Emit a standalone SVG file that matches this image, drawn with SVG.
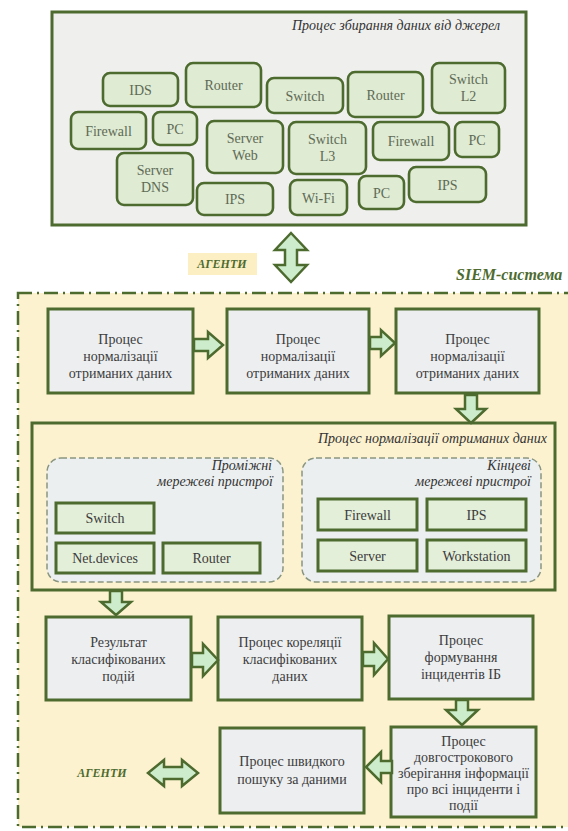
<svg xmlns="http://www.w3.org/2000/svg" width="568" height="831" viewBox="0 0 568 831" font-family="'Liberation Serif', 'DejaVu Serif', serif">
<style>
text{font-family:"Liberation Serif","DejaVu Serif",serif;}
.dev rect{fill:#dfebd3;stroke:#4d6b2f;stroke-width:2.6;}
.dev text{font-size:14px;fill:#5e6a55;text-anchor:middle;}
.proc rect{fill:#eceef0;stroke:#4d6b2f;stroke-width:3;}
.proc text{font-size:14px;fill:#3c3c3c;text-anchor:middle;}
.inner rect{fill:#e4efd9;stroke:#4d6b2f;stroke-width:3;}
.inner text{font-size:14px;fill:#3c3c3c;text-anchor:middle;}
.grp{fill:#eceff0;stroke:#8a9680;stroke-width:1.5;stroke-dasharray:6 3;}
.ttl{font-size:14px;font-style:italic;fill:#333;text-anchor:end;}
.ag{font-size:12px;font-style:italic;font-weight:bold;fill:#4d6b2f;text-anchor:middle;}
.arr{fill:#cdeccb;stroke:#4d6b2f;stroke-width:2.5;stroke-linejoin:miter;}
</style>

<!-- top collecting box -->
<g id="collect">
<rect x="52" y="12" width="474" height="213" fill="#eff0ee" stroke="#4d6b2f" stroke-width="3"/>
<text class="ttl" x="500" y="30">Процес збирання даних від джерел</text>
</g>

<g id="d-ids" class="dev"><rect x="103" y="73" width="75" height="33" rx="7"/><text x="140.5" y="94.5">IDS</text></g>
<g id="d-router1" class="dev"><rect x="186" y="63" width="75" height="44" rx="7"/><text x="223.5" y="90">Router</text></g>
<g id="d-switch1" class="dev"><rect x="267" y="78" width="76" height="35" rx="7"/><text x="305" y="100.5">Switch</text></g>
<g id="d-router2" class="dev"><rect x="348" y="72" width="75" height="45" rx="7"/><text x="385.5" y="99.5">Router</text></g>
<g id="d-switchl2" class="dev"><rect x="432" y="63" width="73" height="50" rx="7"/><text x="468.5" y="84">Switch</text><text x="468.5" y="101">L2</text></g>
<g id="d-firewall1" class="dev"><rect x="71" y="112" width="75" height="37" rx="7"/><text x="108.5" y="135.5">Firewall</text></g>
<g id="d-pc1" class="dev"><rect x="153" y="112" width="44" height="33" rx="7"/><text x="175" y="133.5">PC</text></g>
<g id="d-serverweb" class="dev"><rect x="207" y="121" width="76" height="52" rx="7"/><text x="245" y="143">Server</text><text x="245" y="160">Web</text></g>
<g id="d-switchl3" class="dev"><rect x="289" y="122" width="77" height="52" rx="7"/><text x="327.5" y="144">Switch</text><text x="327.5" y="161">L3</text></g>
<g id="d-firewall2" class="dev"><rect x="373" y="122" width="76" height="38" rx="7"/><text x="411" y="146">Firewall</text></g>
<g id="d-pc2" class="dev"><rect x="455" y="122" width="44" height="35" rx="7"/><text x="477" y="144.5">PC</text></g>
<g id="d-serverdns" class="dev"><rect x="117" y="153" width="76" height="52" rx="7"/><text x="155" y="175">Server</text><text x="155" y="192">DNS</text></g>
<g id="d-ips1" class="dev"><rect x="197" y="183" width="76" height="32" rx="7"/><text x="235" y="204">IPS</text></g>
<g id="d-wifi" class="dev"><rect x="290" y="180" width="57" height="35" rx="7"/><text x="318.5" y="202.5">Wi-Fi</text></g>
<g id="d-pc3" class="dev"><rect x="359" y="176" width="45" height="33" rx="7"/><text x="381.5" y="197.5">PC</text></g>
<g id="d-ips2" class="dev"><rect x="409" y="167" width="77" height="35" rx="7"/><text x="447.5" y="189.5">IPS</text></g>

<!-- agents label top -->
<g id="agents-top">
<rect x="188" y="253" width="69" height="22" fill="#fcefc4"/>
<text class="ag" x="222" y="268">АГЕНТИ</text>
</g>

<!-- SIEM region -->
<g id="siem">
<rect x="18" y="293" width="600" height="534" fill="#fdf2cf" stroke="#4d6b2f" stroke-width="2.5" stroke-dasharray="14 5 2 5"/>
<text x="456" y="280" font-size="16" font-style="italic" font-weight="bold" fill="#4d6b2f">SIEM-система</text>
</g>

<!-- row 1 -->
<g id="p-norm1" class="proc"><rect x="48" y="309" width="145" height="84"/><text x="120.5" y="344">Процес</text><text x="120.5" y="361">нормалізації</text><text x="120.5" y="378">отриманих даних</text></g>
<g id="p-norm2" class="proc"><rect x="227" y="309" width="142" height="84"/><text x="298" y="344">Процес</text><text x="298" y="361">нормалізації</text><text x="298" y="378">отриманих даних</text></g>
<g id="p-norm3" class="proc"><rect x="396" y="309" width="143" height="84"/><text x="467.5" y="344">Процес</text><text x="467.5" y="361">нормалізації</text><text x="467.5" y="378">отриманих даних</text></g>

<!-- big normalization box -->
<g id="p-normbig">
<rect x="32" y="423" width="523" height="167" fill="none" stroke="#4d6b2f" stroke-width="3"/>
<text class="ttl" x="547" y="443">Процес нормалізації отриманих даних</text>
</g>
<g id="g-intermediate">
<rect class="grp" x="47" y="458" width="236" height="124" rx="14"/>
<text class="ttl" x="272" y="470" font-size="13">Проміжні</text>
<text class="ttl" x="273" y="486" font-size="13">мережеві пристрої</text>
</g>
<g id="g-end">
<rect class="grp" x="302" y="458" width="239" height="124" rx="14"/>
<text class="ttl" x="531" y="470" font-size="13">Кінцеві</text>
<text class="ttl" x="531" y="486" font-size="13">мережеві пристрої</text>
</g>
<g id="i-switch" class="inner"><rect x="56" y="503" width="98" height="30"/><text x="105" y="523">Switch</text></g>
<g id="i-netdev" class="inner"><rect x="56" y="543" width="98" height="30"/><text x="105" y="563">Net.devices</text></g>
<g id="i-router" class="inner"><rect x="163" y="543" width="97" height="30"/><text x="211.5" y="563">Router</text></g>
<g id="i-firewall" class="inner"><rect x="318" y="499" width="99" height="31"/><text x="367.5" y="519.5">Firewall</text></g>
<g id="i-ips" class="inner"><rect x="427" y="499" width="99" height="31"/><text x="476.5" y="519.5">IPS</text></g>
<g id="i-server" class="inner"><rect x="318" y="540" width="99" height="31"/><text x="367.5" y="560.5">Server</text></g>
<g id="i-workstation" class="inner"><rect x="427" y="540" width="99" height="31"/><text x="476.5" y="560.5">Workstation</text></g>

<!-- row 2 -->
<g id="p-result" class="proc"><rect x="46" y="617" width="145" height="83"/><text x="118.5" y="647">Результат</text><text x="118.5" y="664">класифікованих</text><text x="118.5" y="681">подій</text></g>
<g id="p-correl" class="proc"><rect x="218" y="617" width="144" height="83"/><text x="290" y="647">Процес кореляції</text><text x="290" y="664">класифікованих</text><text x="290" y="681">даних</text></g>
<g id="p-incid" class="proc"><rect x="389" y="616" width="144" height="83"/><text x="461" y="645">Процес</text><text x="461" y="662">формування</text><text x="461" y="679">інцидентів ІБ</text></g>

<!-- row 3 -->
<g id="p-search" class="proc"><rect x="220" y="728" width="144" height="85"/><text x="292" y="766">Процес швидкого</text><text x="292" y="784">пошуку за даними</text></g>
<g id="p-store" class="proc"><rect x="391" y="727" width="145" height="90"/>
<text x="463.5" y="746" font-size="12.5">Процес</text>
<text x="463.5" y="762" font-size="12.5">довгострокового</text>
<text x="463.5" y="778" font-size="12.5">зберігання інформації</text>
<text x="463.5" y="794" font-size="12.5">про всі інциденти і</text>
<text x="463.5" y="810" font-size="12.5">події</text>
</g>

<g id="agents-bottom">
<text class="ag" x="102" y="777">АГЕНТИ</text>
</g>

<!-- connectors -->
<g id="connectors" class="arr">
<path d="M291,233 L307,250 H297 V265 H307 L291,282 L275,265 H285 V250 H275 Z"/>
<path d="M194,339 H208 V332 L223,345 L208,358 V351 H194 Z"/>
<path d="M370,337 H381 V330 L395,343 L381,356 V349 H370 Z"/>
<path d="M465,395 V409 H456 L471,423 L486,409 H477 V395 Z"/>
<path d="M110,591 V602 H101 L116,615 L131,602 H122 V591 Z"/>
<path d="M192,653 H203 V644 L218,660 L203,676 V667 H192 Z"/>
<path d="M363,652 H374 V643 L388,659 L374,675 V666 H363 Z"/>
<path d="M456,700 V710 H446 L462,725 L478,710 H468 V700 Z"/>
<path d="M392,761 H381 V752 L366,767 L381,782 V773 H392 Z"/>
<path d="M148,773 L164,760 V767 H182 V760 L198,773 L182,786 V779 H164 V786 Z"/>
</g>
</svg>
